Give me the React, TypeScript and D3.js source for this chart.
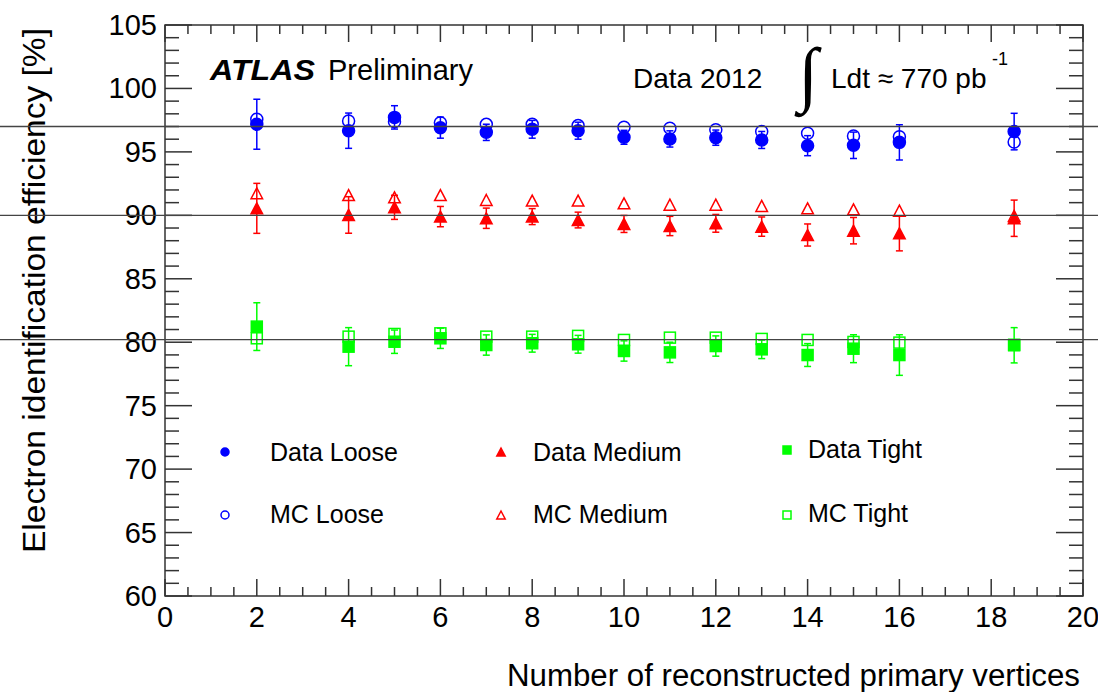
import React from "react";
import * as d3 from "d3";

// number of reconstructed primary vertices (bin centres)
const nVtx = [2, 4, 5, 6, 7, 8, 9, 10, 11, 12, 13, 14, 15, 16, 18.5];

const dataLoose = [97.18, 96.67, 97.72, 96.91, 96.54, 96.78, 96.67, 96.15, 96.02, 96.12, 95.94, 95.49, 95.52, 95.75, 96.6];
const dataLooseErr = [1.97, 1.39, 0.92, 0.83, 0.64, 0.7, 0.67, 0.55, 0.64, 0.6, 0.67, 0.79, 1.04, 1.39, 1.44];
const mcLoose = [97.57, 97.43, 97.38, 97.3, 97.17, 97.17, 97.07, 96.94, 96.86, 96.75, 96.6, 96.47, 96.25, 96.2, 95.78];

const dataMedium = [90.55, 90.03, 90.63, 89.9, 89.77, 89.9, 89.63, 89.32, 89.16, 89.37, 89.11, 88.45, 88.79, 88.58, 89.77];
const dataMediumErr = [1.97, 1.44, 0.95, 0.8, 0.8, 0.63, 0.62, 0.67, 0.76, 0.7, 0.76, 0.87, 1.04, 1.38, 1.43];
const mcMedium = [91.74, 91.6, 91.42, 91.6, 91.21, 91.16, 91.16, 90.95, 90.84, 90.84, 90.74, 90.55, 90.47, 90.37, 89.95];

const dataTight = [81.23, 79.65, 80.04, 80.31, 79.78, 79.92, 79.84, 79.31, 79.2, 79.7, 79.44, 78.99, 79.49, 78.99, 79.76];
const dataTightErr = [1.88, 1.5, 0.92, 0.8, 0.8, 0.7, 0.7, 0.8, 0.8, 0.8, 0.73, 0.9, 1.1, 1.6, 1.39];
const mcTight = [80.31, 80.44, 80.65, 80.7, 80.44, 80.44, 80.5, 80.18, 80.36, 80.36, 80.26, 80.18, 80.02, 79.97, 79.8];

// horizontal reference lines (average efficiencies)
const refLines = [97.0, 90.0, 80.2];

const xMajor = d3.range(0, 21, 2);
const xMinor = d3.range(0, 20.01, 0.5);
const yMajor = d3.range(60, 106, 5);
const yMinor = d3.range(60, 105.01, 1);

const BLUE = "#0000ff";
const RED = "#ff0000";
const GREEN = "#00ff00";
const FONT = "'Liberation Sans', Arial, sans-serif";

type Shape = "circle" | "triangle" | "square";

function Marker({ shape, cx, cy, size, color, filled }: { shape: Shape; cx: number; cy: number; size: number; color: string; filled: boolean }) {
  const fill = filled ? color : "#fff";
  const fillOpacity = filled ? 1 : 0;
  if (shape === "circle") {
    return <circle cx={cx} cy={cy} r={size / 2} fill={fill} fillOpacity={fillOpacity} stroke={color} strokeWidth={1.5} />;
  }
  if (shape === "square") {
    return <rect x={cx - size / 2} y={cy - size / 2} width={size} height={size} fill={fill} fillOpacity={fillOpacity} stroke={color} strokeWidth={1.5} />;
  }
  const h = size;
  const w = size * 1.05;
  const p = `M${cx},${cy - h / 2}L${cx + w / 2},${cy + h / 2}L${cx - w / 2},${cy + h / 2}Z`;
  return <path d={p} fill={fill} fillOpacity={fillOpacity} stroke={color} strokeWidth={1.5} />;
}

export default function App() {
  const x = d3.scaleLinear().domain([0, 20]).range([165, 1083]);
  const y = d3.scaleLinear().domain([60, 105]).range([596, 25]);
  const [x0, x1] = x.range();
  const [y0, y1] = y.range();

  const series = [
    { name: "Data Loose", vals: dataLoose, err: dataLooseErr, shape: "circle" as Shape, color: BLUE, filled: true },
    { name: "MC Loose", vals: mcLoose, err: null, shape: "circle" as Shape, color: BLUE, filled: false },
    { name: "Data Medium", vals: dataMedium, err: dataMediumErr, shape: "triangle" as Shape, color: RED, filled: true },
    { name: "MC Medium", vals: mcMedium, err: null, shape: "triangle" as Shape, color: RED, filled: false },
    { name: "Data Tight", vals: dataTight, err: dataTightErr, shape: "square" as Shape, color: GREEN, filled: true },
    { name: "MC Tight", vals: mcTight, err: null, shape: "square" as Shape, color: GREEN, filled: false },
  ];

  // draw MC first, data on top
  const drawOrder = [1, 3, 5, 0, 2, 4];

  const legend = [
    { s: 0, mx: 225, my: 452, tx: 270, ty: 461 },
    { s: 1, mx: 225, my: 515, tx: 270, ty: 523 },
    { s: 2, mx: 501, my: 452, tx: 533, ty: 461 },
    { s: 3, mx: 501, my: 515, tx: 533, ty: 523 },
    { s: 4, mx: 787, my: 450, tx: 808, ty: 458 },
    { s: 5, mx: 787, my: 515, tx: 808, ty: 522 },
  ];

  const axisColor = "#333";

  return (
    <svg width={1098} height={692} style={{ position: "absolute", left: 0, top: 0, background: "#fff" }} fontFamily={FONT}>
      <rect x={0} y={0} width={1098} height={692} fill="#fff" />

      {/* frame */}
      <rect x={x0} y={y1} width={x1 - x0} height={y0 - y1} fill="none" stroke={axisColor} strokeWidth={1.5} />

      {/* x ticks bottom and top */}
      {xMinor.map((v) => {
        const major = Math.abs(v / 2 - Math.round(v / 2)) < 1e-6;
        const len = major ? 17 : 9;
        return (
          <g key={`xt${v}`} stroke={axisColor} strokeWidth={1.5}>
            <line x1={x(v)} x2={x(v)} y1={y0} y2={y0 - len} />
            <line x1={x(v)} x2={x(v)} y1={y1} y2={y1 + len} />
          </g>
        );
      })}
      {/* y ticks left and right */}
      {yMinor.map((v) => {
        const major = v % 5 === 0;
        const len = major ? 27 : 14;
        return (
          <g key={`yt${v}`} stroke={axisColor} strokeWidth={1.5}>
            <line x1={x0} x2={x0 + len} y1={y(v)} y2={y(v)} />
            <line x1={x1} x2={x1 - len} y1={y(v)} y2={y(v)} />
          </g>
        );
      })}

      {/* tick labels */}
      {xMajor.map((v) => (
        <text key={`xl${v}`} x={x(v)} y={627} fontSize={29} textAnchor="middle" fill="#000">
          {v}
        </text>
      ))}
      {yMajor.map((v) => (
        <text key={`yl${v}`} x={157} y={y(v) + 10} fontSize={29} textAnchor="end" fill="#000">
          {v}
        </text>
      ))}

      {/* axis titles */}
      <text x={507} y={686} fontSize={31} textLength={573} lengthAdjust="spacingAndGlyphs" fill="#000">
        Number of reconstructed primary vertices
      </text>
      <text transform="translate(45,28) rotate(-90)" fontSize={31} textAnchor="end" textLength={525} lengthAdjust="spacingAndGlyphs" fill="#000">
        Electron identification efficiency [%]
      </text>

      {/* markers and error bars */}
      {drawOrder.map((si) => {
        const s = series[si];
        return (
          <g key={s.name}>
            {nVtx.map((n, i) => {
              const cx = x(n);
              const cy = y(s.vals[i]);
              return (
                <g key={i}>
                  {s.err && (
                    <g stroke={s.color} strokeWidth={1.5}>
                      <line x1={cx} x2={cx} y1={y(s.vals[i] + s.err[i])} y2={y(s.vals[i] - s.err[i])} />
                      <line x1={cx - 3.5} x2={cx + 3.5} y1={y(s.vals[i] + s.err[i])} y2={y(s.vals[i] + s.err[i])} />
                      <line x1={cx - 3.5} x2={cx + 3.5} y1={y(s.vals[i] - s.err[i])} y2={y(s.vals[i] - s.err[i])} />
                    </g>
                  )}
                  <Marker shape={s.shape} cx={cx} cy={cy} size={s.shape === "circle" ? 12 : 11} color={s.color} filled={s.filled} />
                </g>
              );
            })}
          </g>
        );
      })}

      {/* reference lines */}
      {refLines.map((v) => (
        <line key={`rl${v}`} x1={0} x2={1098} y1={y(v)} y2={y(v)} stroke="#444" strokeWidth={1.3} />
      ))}

      {/* legend */}
      {legend.map((l) => {
        const s = series[l.s];
        return (
          <g key={`lg${s.name}`}>
            <Marker shape={s.shape} cx={l.mx} cy={l.my} size={8} color={s.color} filled={s.filled} />
            <text x={l.tx} y={l.ty} fontSize={25} fill="#000">
              {s.name}
            </text>
          </g>
        );
      })}

      {/* labels */}
      <text x={210} y={80} fontSize={30} fill="#000" fontWeight="bold" fontStyle="italic" textLength={105} lengthAdjust="spacingAndGlyphs">
        ATLAS
      </text>
      <text x={328} y={80} fontSize={29} fill="#000">Preliminary</text>
      <text x={633} y={88} fontSize={28} fill="#000">Data 2012</text>
      <text x={808} y={98} fontSize={72} textAnchor="middle" fill="#000" fontFamily="'Liberation Serif', serif">∫</text>
      <text x={831} y={88} fontSize={28} fill="#000">Ldt ≈ 770 pb</text>
      <text x={992} y={65} fontSize={18} fill="#000">-1</text>
    </svg>
  );
}
